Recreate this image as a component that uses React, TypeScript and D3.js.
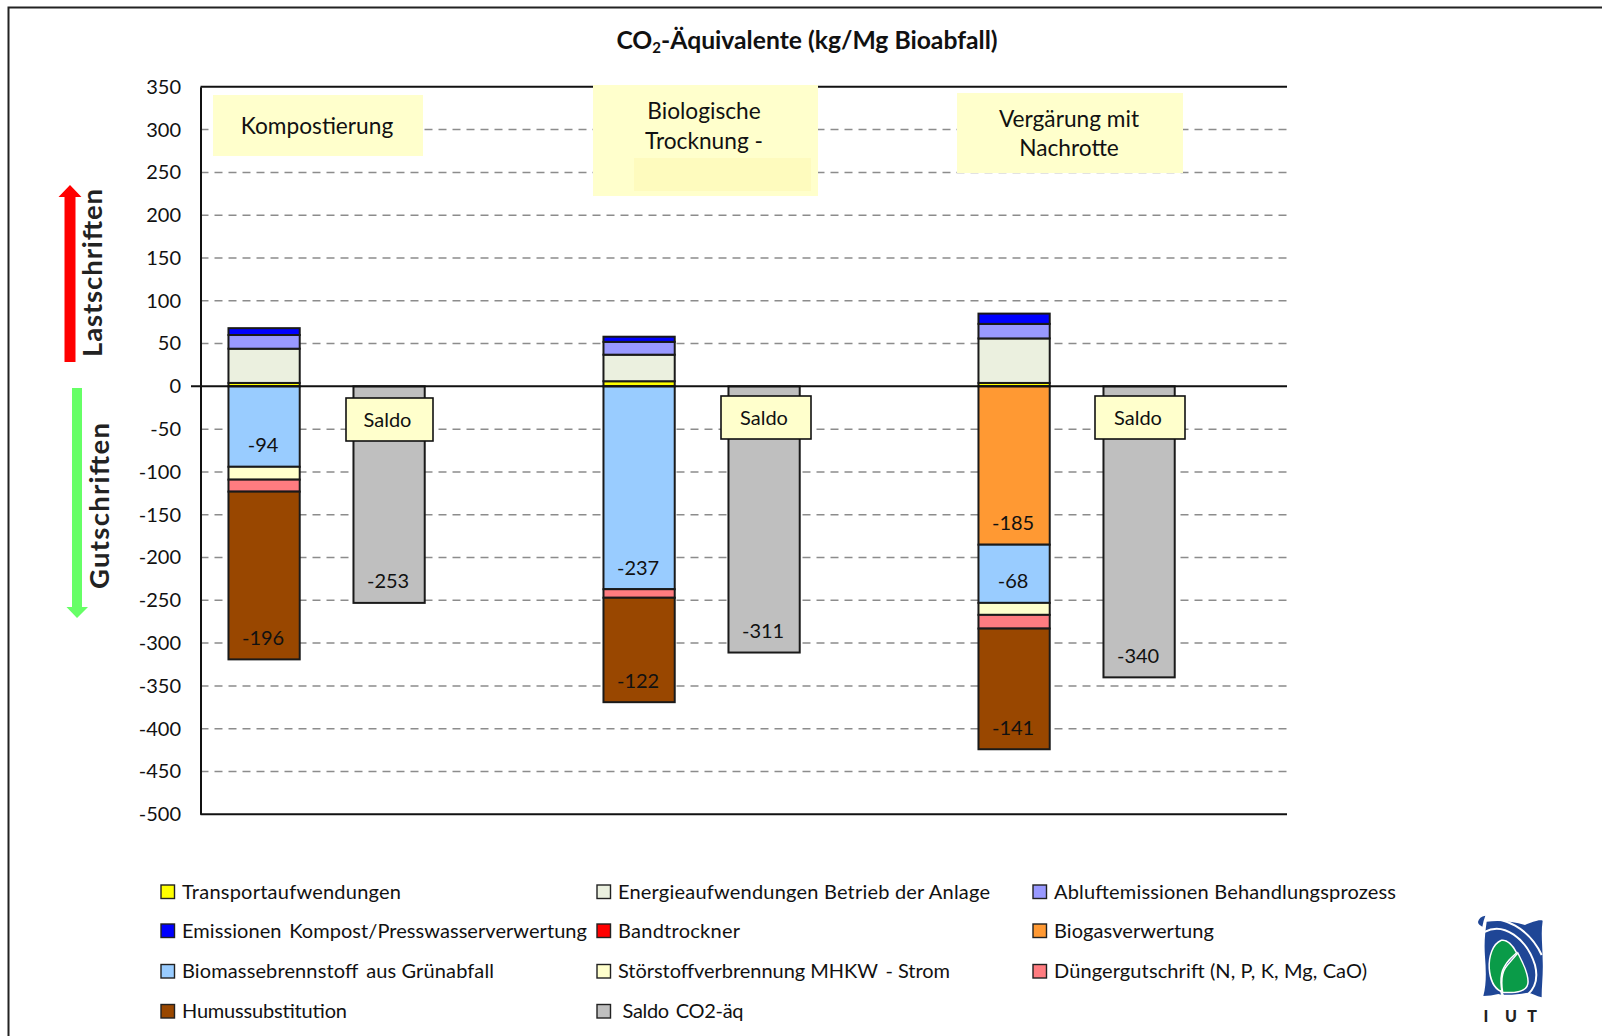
import React, { useEffect, useRef } from 'react';
import * as d3 from 'd3';

const FONT = 'Lato, "Open Sans", sans-serif';

// columns of the chart, the empty ones are only spacers between the groups
const categories = ['K', 'K-Saldo', 'gap1', 'T', 'T-Saldo', 'gap2', 'V', 'V-Saldo'];

const transport = [4, 0, 0, 6, 0, 0, 4, 0];
const energie = [40, 0, 0, 31, 0, 0, 52, 0];
const abluft = [16, 0, 0, 15, 0, 0, 17, 0];
const emissionen = [8, 0, 0, 6, 0, 0, 12, 0];
const bandtrockner = [0, 0, 0, 0, 0, 0, 0, 0];
const biogas = [0, 0, 0, 0, 0, 0, -185, 0];
const biomasse = [-94, 0, 0, -237, 0, 0, -68, 0];
const stoerstoff = [-15, 0, 0, 0, 0, 0, -14, 0];
const duenger = [-14, 0, 0, -10, 0, 0, -16, 0];
const humus = [-196, 0, 0, -122, 0, 0, -141, 0];
const saldo = [0, -253, 0, 0, -311, 0, 0, -340];

const seriesNames = [
  'Transportaufwendungen',
  'Energieaufwendungen Betrieb der Anlage',
  'Abluftemissionen Behandlungsprozess',
  'Emissionen\u2009 Kompost/Presswasserverwertung',
  'Bandtrockner',
  'Biogasverwertung',
  'Biomassebrennstoff\u2009 aus Grünabfall',
  'Störstoffverbrennung MHKW\u2009 - Strom',
  'Düngergutschrift (N, P, K, Mg, CaO)',
  'Humussubstitution',
  'Saldo\u2009 CO2-äq',
];
const seriesValues = [transport, energie, abluft, emissionen, bandtrockner, biogas, biomasse, stoerstoff, duenger, humus, saldo];
const seriesColors = ['#FFFF00', '#EBF0DF', '#9999FF', '#0000FF', '#FF0000', '#FF9933', '#99CCFF', '#FFFFCC', '#FF7C80', '#994700', '#BFBFBF'];

// these series get their value printed inside the bar
const labelled = [seriesNames[5], seriesNames[6], seriesNames[9], seriesNames[10]];

const yTicks = d3.range(-500, 351, 50);

const saldoBoxes = [
  { cat: 'K-Saldo', x: 346, y: 398, w: 87, h: 43 },
  { cat: 'T-Saldo', x: 721, y: 396, w: 90, h: 43 },
  { cat: 'V-Saldo', x: 1095, y: 396, w: 90, h: 43 },
];

const legendCols = [161, 597, 1033];
const legendRows = [892, 931, 971.5, 1011.5];
// widths of the legend texts as measured on the slide
const legendTextWidths = [219, 372, 342, 405, 122, 160, 312, 332, 313, 165, 121];

export default function App() {
  const ref = useRef<SVGSVGElement>(null);

  useEffect(() => {
    if (!ref.current) return;
    const svg = d3.select(ref.current);
    svg.selectAll('*').remove();

    const left = 200.5;
    const right = 1287;
    const y = d3.scaleLinear().domain([-500, 350]).range([814.3, 86.8]);
    const x = d3.scaleBand().domain(categories).range([201.6, 1201.6]).paddingInner(0.43).paddingOuter(0.215);

    // frame round the slide
    svg.append('path')
      .attr('d', 'M8.5,1036V7.5H1602')
      .attr('fill', 'none')
      .attr('stroke', '#222')
      .attr('stroke-width', 2);

    // title
    const title = svg.append('text')
      .attr('x', 807).attr('y', 49)
      .attr('text-anchor', 'middle')
      .attr('font-size', 24.7)
      .attr('font-weight', 700)
      .attr('fill', '#111');
    title.append('tspan').text('CO');
    title.append('tspan').attr('font-size', 15).attr('dy', 4).text('2');
    title.append('tspan').attr('dy', -4).text('-Äquivalente (kg/Mg Bioabfall)');

    // gridlines
    svg.append('g')
      .selectAll('line')
      .data(yTicks.filter(t => t !== 0 && t !== 350 && t !== -500))
      .join('line')
      .attr('x1', left).attr('x2', right)
      .attr('y1', d => y(d)).attr('y2', d => y(d))
      .attr('stroke', '#8c8c8c')
      .attr('stroke-width', 1.5)
      .attr('stroke-dasharray', '8 6');

    svg.append('g')
      .selectAll('line')
      .data([350, -500])
      .join('line')
      .attr('x1', left).attr('x2', right)
      .attr('y1', d => y(d)).attr('y2', d => y(d))
      .attr('stroke', '#111')
      .attr('stroke-width', 2);

    // y axis
    const axis = svg.append('g')
      .attr('transform', `translate(${left},0)`)
      .call(d3.axisLeft(y).tickValues(yTicks).tickSize(0).tickPadding(19.5).tickFormat(d => String(d)));
    axis.select('.domain').attr('stroke', '#111').attr('stroke-width', 2);
    axis.selectAll('text')
      .attr('font-family', FONT)
      .attr('font-size', 20)
      .attr('fill', '#111');

    // stacked bars
    const rows = categories.map((c, i) => {
      const row: Record<string, number | string> = { cat: c };
      seriesNames.forEach((n, j) => { row[n] = seriesValues[j][i]; });
      return row;
    });
    const stacked = d3.stack<any>().keys(seriesNames).offset(d3.stackOffsetDiverging)(rows);

    stacked.forEach((layer, j) => {
      const visible = layer.filter(d => d[1] - d[0] !== 0);
      svg.append('g')
        .selectAll('rect')
        .data(visible)
        .join('rect')
        .attr('x', d => x(d.data.cat as string)!)
        .attr('width', x.bandwidth())
        .attr('y', d => y(d[1]))
        .attr('height', d => y(d[0]) - y(d[1]))
        .attr('fill', seriesColors[j])
        .attr('stroke', '#1a1a1a')
        .attr('stroke-width', 2);
    });

    // zero line on top of the bars
    svg.append('line')
      .attr('x1', 191).attr('x2', right)
      .attr('y1', y(0)).attr('y2', y(0))
      .attr('stroke', '#111')
      .attr('stroke-width', 2);

    // value labels, inside the end of the segment
    stacked.forEach(layer => {
      if (!labelled.includes(layer.key)) return;
      svg.append('g')
        .selectAll('text')
        .data(layer.filter(d => d[1] - d[0] !== 0))
        .join('text')
        .attr('x', d => x(d.data.cat as string)! + x.bandwidth() / 2 - 1)
        .attr('y', d => y(d[0]) - 14.5)
        .attr('text-anchor', 'middle')
        .attr('font-family', FONT)
        .attr('font-size', 20)
        .attr('fill', '#111')
        .text(d => String(d[0] - d[1]));
    });

    // Saldo boxes
    const boxes = svg.append('g').selectAll('g').data(saldoBoxes).join('g');
    boxes.append('rect')
      .attr('x', d => d.x).attr('y', d => d.y)
      .attr('width', d => d.w).attr('height', d => d.h)
      .attr('fill', '#FFFFCC')
      .attr('stroke', '#111')
      .attr('stroke-width', 1.6);
    boxes.append('text')
      .attr('x', d => d.x + d.w / 2 - 2).attr('y', d => d.y + d.h / 2 + 7)
      .attr('text-anchor', 'middle')
      .attr('font-family', FONT)
      .attr('font-size', 20)
      .attr('fill', '#111')
      .text('Saldo');

    // process name boxes
    const nameBox = (bx: number, by: number, w: number, h: number, lines: string[], ys: number[], cx: number) => {
      svg.append('rect').attr('x', bx).attr('y', by).attr('width', w).attr('height', h).attr('fill', '#FFFFCC');
      lines.forEach((l, i) => {
        svg.append('text')
          .attr('x', cx).attr('y', ys[i])
          .attr('text-anchor', 'middle')
          .attr('font-family', FONT)
          .attr('font-size', 22.7)
          .attr('fill', '#111')
          .text(l);
      });
    };
    nameBox(213, 95, 210, 61, ['Kompostierung'], [134], 317);
    svg.append('rect').attr('x', 593).attr('y', 85).attr('width', 225).attr('height', 111).attr('fill', '#FFFFCC');
    svg.append('rect').attr('x', 634).attr('y', 158).attr('width', 177).attr('height', 33).attr('fill', '#FEFBBE');
    nameBox(593, 85, 0, 0, ['Biologische', 'Trocknung -'], [119, 149], 704);
    nameBox(957, 93, 226, 80, ['Vergärung mit', 'Nachrotte'], [127, 156], 1069);

    // load / credit arrows
    svg.append('path').attr('fill', '#FF0000')
      .attr('d', 'M64.5,362V197H58.5L70,185L81.5,197H75.5V362Z');
    svg.append('path').attr('fill', '#66FF66')
      .attr('d', 'M72,388V607H66.5L77,618L88,607H82V388Z');
    svg.append('text')
      .attr('transform', 'translate(102,357) rotate(-90)')
      .attr('font-family', FONT).attr('font-size', 27.5).attr('font-weight', 700).attr('fill', '#222')
      .attr('textLength', 168).attr('lengthAdjust', 'spacing')
      .text('Lastschriften');
    svg.append('text')
      .attr('transform', 'translate(109,589) rotate(-90)')
      .attr('font-family', FONT).attr('font-size', 27.5).attr('font-weight', 700).attr('fill', '#222')
      .attr('textLength', 166).attr('lengthAdjust', 'spacing')
      .text('Gutschriften');

    // legend, three columns filled row by row
    seriesNames.forEach((name, i) => {
      const lx = legendCols[i % 3];
      const ly = legendRows[Math.floor(i / 3)];
      svg.append('rect')
        .attr('x', lx).attr('y', ly - 7).attr('width', 13.5).attr('height', 13.5)
        .attr('fill', seriesColors[i])
        .attr('stroke', '#222')
        .attr('stroke-width', 1.4);
      svg.append('text')
        .attr('x', lx + 21 + (name.startsWith('Saldo') ? 4.5 : 0)).attr('y', ly + 6.5)
        .attr('font-family', FONT)
        .attr('font-size', 20)
        .attr('fill', '#111')
        .attr('textLength', legendTextWidths[i])
        .attr('lengthAdjust', 'spacing')
        .text(name);
    });

    // IUT logo, drawn in the 3x crop units of the slide
    const logo = svg.append('g').attr('transform', 'translate(1470,910) scale(0.3333)');
    logo.append('path').attr('fill', '#1F4696')
      .attr('d', 'M50,35C90,30 130,35 165,45C185,38 205,28 218,32C212,70 218,110 218,150C220,190 215,225 215,262C200,258 185,250 175,248C150,252 110,258 85,252C70,255 55,258 40,258C50,220 48,180 45,140C42,100 45,70 50,35Z');
    logo.append('path').attr('fill', 'none').attr('stroke', '#fff').attr('stroke-width', 6)
      .attr('d', 'M44,26C100,22 175,50 215,135');
    logo.append('path').attr('fill', 'none').attr('stroke', '#fff').attr('stroke-width', 6)
      .attr('d', 'M44,66C100,35 170,85 195,165C205,205 195,235 172,255');
    logo.append('path').attr('fill', '#1F4696')
      .attr('d', 'M24,36C26,25 34,19 46,17C42,27 39,38 37,50C31,46 24,43 24,36Z');
    logo.append('path').attr('fill', '#0A9B48').attr('stroke', '#fff').attr('stroke-width', 9).attr('paint-order', 'stroke')
      .attr('d', 'M95,93C110,90 127,108 137,128C117,145 99,165 93,190C89,210 91,225 93,242C73,232 62,205 60,175C58,140 70,103 95,93Z');
    logo.append('path').attr('fill', '#0A9B48').attr('stroke', '#fff').attr('stroke-width', 9).attr('paint-order', 'stroke')
      .attr('d', 'M143,133C157,160 172,190 172,215C172,242 140,247 100,245C95,215 98,190 108,175C118,160 130,150 143,133Z');
    logo.append('path').attr('fill', 'none').attr('stroke', '#fff').attr('stroke-width', 7)
      .attr('d', 'M93,240C94,248 97,255 102,264');
    svg.append('text')
      .attr('x', '1486 1511 1532').attr('y', 1022)
      .attr('text-anchor', 'middle')
      .attr('font-family', FONT).attr('font-size', 16).attr('font-weight', 900)
      .attr('fill', '#222')
      .text('IUT');
  }, []);

  return (
    <svg
      ref={ref}
      width={1602}
      height={1036}
      style={{ position: 'absolute', left: 0, top: 0, display: 'block', background: '#fff', fontFamily: FONT }}
    />
  );
}
